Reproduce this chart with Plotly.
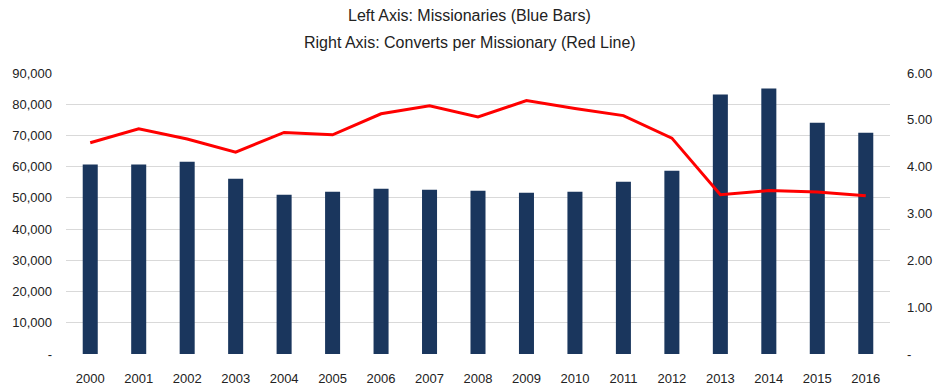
import plotly.graph_objects as go

years = [str(y) for y in range(2000, 2017)]
missionaries = [60700, 60700, 61600, 56100, 51000, 52000, 52900, 52600, 52300,
                51650, 52000, 55200, 58700, 83100, 85000, 74100, 70900]
converts_per_missionary = [4.51, 4.81, 4.59, 4.31, 4.73, 4.68, 5.13, 5.30, 5.06,
                           5.41, 5.24, 5.09, 4.61, 3.40, 3.49, 3.46, 3.38]

left_ticks = [0, 10000, 20000, 30000, 40000, 50000, 60000, 70000, 80000, 90000]
left_labels = ["-", "10,000", "20,000", "30,000", "40,000", "50,000",
               "60,000", "70,000", "80,000", "90,000"]
right_ticks = [0, 1, 2, 3, 4, 5, 6]
right_labels = ["-", "1.00", "2.00", "3.00", "4.00", "5.00", "6.00"]
title_lines = ["Left Axis: Missionaries (Blue Bars)",
               "Right Axis: Converts per Missionary (Red Line)"]

font_family = "Liberation Sans, Arial, sans-serif"

fig = go.Figure()
fig.add_trace(go.Bar(x=years, y=missionaries, marker_color="#1a365d",
                     marker_line_width=0, name="Missionaries", yaxis="y"))
fig.add_trace(go.Scatter(x=years, y=converts_per_missionary, mode="lines",
                         line=dict(color="#ff0000", width=3),
                         name="Converts per Missionary", yaxis="y2"))

for text, ypos in zip(title_lines, [1.206, 1.108]):
    fig.add_annotation(text=text, xref="paper", yref="paper", x=0.490, y=ypos,
                       xanchor="center", yanchor="middle", showarrow=False,
                       font=dict(family=font_family, size=16, color="#222222"))

fig.update_layout(
    width=947, height=392,
    margin=dict(l=66, r=57, t=73, b=38, autoexpand=False),
    paper_bgcolor="white", plot_bgcolor="white",
    showlegend=False,
    bargap=0.69,
    font=dict(family=font_family, size=13, color="#222222"),
    xaxis=dict(showgrid=False, showline=False, zeroline=False,
               ticks="", ticklabelstandoff=15, automargin=False,
               tickfont=dict(size=13)),
    yaxis=dict(range=[0, 90000], tickvals=left_ticks, ticktext=left_labels,
               showgrid=True, gridcolor="#d9d9d9", gridwidth=1,
               zeroline=False, showline=False, ticks="", automargin=False,
               ticklabelstandoff=13, tickfont=dict(size=13)),
    yaxis2=dict(range=[0, 6], tickvals=right_ticks, ticktext=right_labels,
                overlaying="y", side="right", showgrid=False,
                zeroline=False, showline=False, ticks="", automargin=False,
                ticklabelstandoff=16, tickfont=dict(size=13)),
)

fig.write_html("out.html", config={"displayModeBar": False},
               post_script="document.body.style.margin='0px';")
